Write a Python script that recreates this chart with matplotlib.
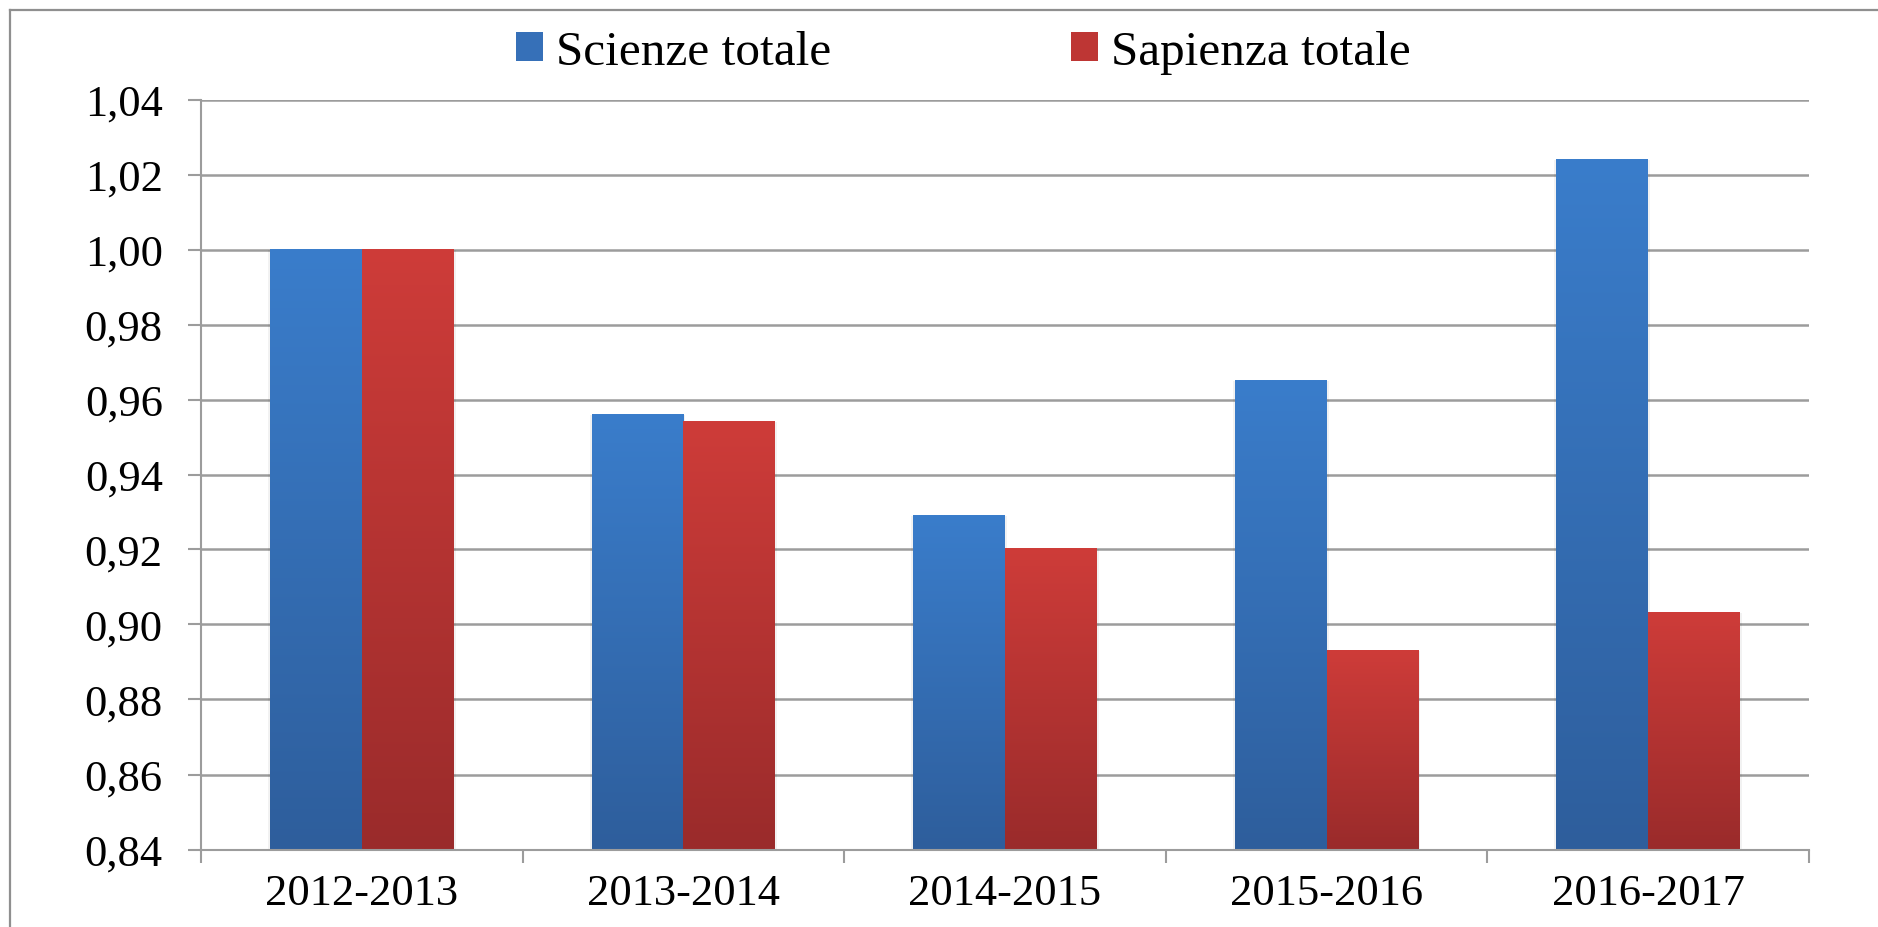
import numpy as np
import matplotlib
matplotlib.use("Agg")
import matplotlib.pyplot as plt
from matplotlib.patches import Patch
from matplotlib.lines import Line2D
from matplotlib.colors import LinearSegmentedColormap

categories = ["2012-2013", "2013-2014", "2014-2015", "2015-2016", "2016-2017"]
scienze = [1.000, 0.956, 0.929, 0.965, 1.024]
sapienza = [1.000, 0.954, 0.920, 0.893, 0.903]
series_names = ["Scienze totale", "Sapienza totale"]
yticks = [0.84, 0.86, 0.88, 0.90, 0.92, 0.94, 0.96, 0.98, 1.00, 1.02, 1.04]
ytick_labels = ["0,84", "0,86", "0,88", "0,90", "0,92", "0,94", "0,96", "0,98", "1,00", "1,02", "1,04"]

blue_top, blue_bot = "#3A7DCB", "#2E5E9C"
red_top, red_bot = "#CE3C39", "#9A2B2B"
grid_col = "#9c9c9c"

plt.rcParams['font.family'] = ['Liberation Serif', 'DejaVu Serif']

fig = plt.figure(figsize=(18.78, 9.28), dpi=100)
ax = fig.add_axes([201/1878, 1 - 850.5/928, 1608/1878, 750/928])

x = np.arange(len(categories))
w = 1 / 3.5
ymin, ymax = 0.84, 1.04

b1 = ax.bar(x - w/2, np.array(scienze) - ymin, w, bottom=ymin, color=blue_top,
            edgecolor="none", zorder=3)
b2 = ax.bar(x + w/2, np.array(sapienza) - ymin, w, bottom=ymin, color=red_top,
            edgecolor="none", zorder=3)

grad = np.linspace(0, 1, 256).reshape(-1, 1)
for bars, top, bot in [(b1, blue_top, blue_bot), (b2, red_top, red_bot)]:
    cmap = LinearSegmentedColormap.from_list("g", [bot, top])
    for r in bars:
        x0, y0, bw, bh = r.get_x(), r.get_y(), r.get_width(), r.get_height()
        # soft side shadow
        ax.add_patch(plt.Rectangle((x0 - 0.006, y0), bw + 0.012, bh,
                                   color="#000000", alpha=0.05, zorder=2.5, lw=0))
        ax.imshow(grad, extent=[x0, x0 + bw, y0, y0 + bh], origin="lower",
                  cmap=cmap, aspect="auto", zorder=3.5, interpolation="bilinear")

ax.set_xlim(-0.5, len(categories) - 0.5)
ax.set_ylim(ymin, ymax)

ax.set_yticks(yticks)
ax.set_yticklabels(ytick_labels)
ax.set_xticks(x)
ax.set_xticklabels(categories)
ax.set_xticks(np.arange(-0.5, len(categories)), minor=True)

ax.tick_params(axis="x", which="major", length=0, pad=17, labelsize=32)
ax.tick_params(axis="x", which="minor", length=9.5, width=1.5, color=grid_col, direction="out")
ax.tick_params(axis="y", length=9.5, width=1.5, color=grid_col, pad=18, labelsize=32)

ax.yaxis.grid(True, color=grid_col, lw=1.8, zorder=1)
ax.set_axisbelow(True)
for s in ["top", "right"]:
    ax.spines[s].set_visible(False)
for s in ["left", "bottom"]:
    ax.spines[s].set_color(grid_col)
    ax.spines[s].set_linewidth(1.5)
ax.spines["bottom"].set_zorder(4)

handles = [Patch(facecolor="#3670B8", edgecolor="none"),
           Patch(facecolor="#BE3634", edgecolor="none")]
fig.legend(handles, series_names, loc="center", bbox_to_anchor=(963.5/1878, 1 - 53/928),
           ncol=2, frameon=False, fontsize=35.5, handlelength=0.55, handleheight=0.55,
           handletextpad=0.27, columnspacing=4.85, borderpad=0, borderaxespad=0)

# outer chart border (left and top)
fig.add_artist(Line2D([10/1878, 10/1878], [0, 1 - 11/928], color="#8f8f8f", lw=1.6,
                      transform=fig.transFigure))
fig.add_artist(Line2D([10/1878, 1], [1 - 11/928, 1 - 11/928], color="#8f8f8f", lw=1.6,
                      transform=fig.transFigure))

fig.savefig("out.png", dpi=100)
